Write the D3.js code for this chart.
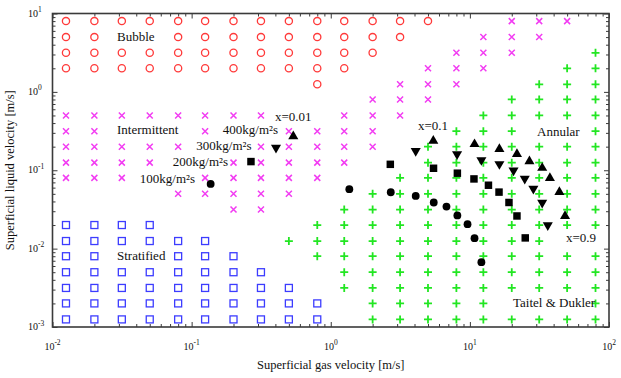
<!DOCTYPE html>
<html><head><meta charset="utf-8">
<script src="https://cdn.jsdelivr.net/npm/d3@7"></script>
<style>
html,body{margin:0;padding:0;background:#fff;}
svg{display:block;font-family:"Liberation Serif","Times New Roman",serif;}
</style></head><body>
<svg id="chart" width="621" height="378"></svg>
<script>
// Grid of superficial gas (jg) and liquid (jl) velocities [m/s]
const jgGrid = [0.0125, 0.02, 0.0315, 0.05, 0.08, 0.125, 0.2, 0.315, 0.5, 0.8,
                1.25, 2, 3.15, 5, 8, 12.5, 20, 31.5, 50, 80];
const jlGrid = [8, 5, 3.15, 2, 1.25, 0.8, 0.5, 0.315, 0.2, 0.125,
                0.08, 0.05, 0.0315, 0.02, 0.0125, 0.008, 0.005, 0.00315, 0.002, 0.00125];

// Predicted regime per grid node: one row per jl value, one char per jg value
// B bubble, I intermittent, S stratified, A annular, . not plotted
const regimeMap = [
  "BBBBBBBBBBBBBB..III.",
  "BB..BBBBBBBBB..III..",
  "BBBBBBBBBBBB..III..A",
  "BBBBBBBBBBB..III..AA",
  ".........B..III..AAA",
  "...........III..AAAA",
  "IIIIIIII..III..AAAAA",
  "II...I..IIII..AAA..A",
  "IIIII..IIIII.AAAAAAA",
  "IIII..IIIII..AAAAAAA",
  "III..IIIII..AAAAAAAA",
  "....IIIII..AAAAAAAAA",
  "......II..AAAAAAAAAA",
  "SSSS.....AAAAAAAAAAA",
  "SSSSSS..AAAAAAAAAA..",
  "SS..SSS..AAAAAAAAAAA",
  "SSSSSSSS..AAAAAAAAAA",
  "SSSSSSSSS.AAAAAAAAAA",
  "SSSSSSSSSS.AAAAA...A",
  "SSSSSSSSSS.AAAAAAAAA"
];

// Operating points [jg, jl] for qualities x = 0.01, 0.1 ... 0.9 at each mass flux
const g100 = [[0.137,0.0669],[1.36,0.0573],[2.70,0.0524],[4.08,0.0470],[5.50,0.0388],
              [6.79,0.0344],[8.13,0.0265],[9.62,0.0205],[10.8,0.0136],[12.1,0.00671]];
const g200 = [[0.267,0.129],[2.68,0.119],[5.48,0.106],[8.13,0.0917],[10.7,0.0775],
              [13.6,0.0644],[16.2,0.0526],[19.1,0.0388],[21.8,0.0261],[25.0,0.0137]];
const g300 = [[0.404,0.194],[4.08,0.176],[8.09,0.160],[12.1,0.135],[16.3,0.120],
              [20.6,0.0993],[24.8,0.078],[28.6,0.0582],[33.1,0.0386],[36.3,0.0199]];
const g400 = [[0.538,0.270],[5.46,0.237],[10.8,0.215],[16.3,0.186],[21.8,0.161],
              [26.8,0.130],[33.1,0.107],[37.6,0.0792],[44.0,0.0528],[48.3,0.0261]];

// Decade tick exponents
const xTickExp = [-2, -1, 0, 1, 2];
const yTickExp = [-3, -2, -1, 0, 1];

const xTitle = "Superficial gas velocity [m/s]";
const yTitle = "Superficial liquid velocity [m/s]";

// ---- layout ----
const P = {left: 52.5, right: 609, top: 13.5, bottom: 327};
const x = d3.scaleLog().domain([1e-2, 1e2]).range([P.left, P.right]);
const y = d3.scaleLog().domain([1e-3, 1e1]).range([P.bottom, P.top]);

const svg = d3.select("#chart");
const ink = "#3a3a3a";

const xMajor = xTickExp.map(e => Math.pow(10, e));
const yMajor = yTickExp.map(e => Math.pow(10, e));
const minors = majors => majors.slice(0, -1).flatMap(m => d3.range(2, 10).map(k => k * m));

function drawAxis(gen, majors, transform) {
  const g = svg.append("g").attr("transform", transform);
  g.call(gen.tickValues(majors).tickSize(-5).tickSizeOuter(0).tickFormat(""));
  g.append("g").call(gen.tickValues(minors(majors)).tickSize(-3).tickSizeOuter(0).tickFormat(""));
  g.selectAll(".domain").remove();
  g.selectAll("line").attr("stroke", ink).attr("stroke-width", 1);
}
drawAxis(d3.axisBottom(x), xMajor, `translate(0,${P.bottom})`);
drawAxis(d3.axisTop(x), xMajor, `translate(0,${P.top})`);
drawAxis(d3.axisLeft(y), yMajor, `translate(${P.left},0)`);
drawAxis(d3.axisRight(y), yMajor, `translate(${P.right},0)`);

// ---- regime map markers ----
const nodes = [];
regimeMap.forEach((row, i) => {
  row.split("").forEach((c, j) => {
    if (c !== ".") nodes.push({jg: jgGrid[j], jl: jlGrid[i], r: c});
  });
});

const layer = svg.append("g");
nodes.forEach(d => {
  const cx = x(d.jg), cy = y(d.jl);
  if (d.r === "B") {
    layer.append("circle").attr("cx", cx).attr("cy", cy).attr("r", 3.6)
      .attr("fill", "none").attr("stroke", "#ff3a3a").attr("stroke-width", 1.3);
  } else if (d.r === "S") {
    layer.append("rect").attr("x", cx - 3.5).attr("y", cy - 3.5)
      .attr("width", 7).attr("height", 7)
      .attr("fill", "none").attr("stroke", "#3c3cff").attr("stroke-width", 1.3);
  } else if (d.r === "I") {
    const a = 3;
    layer.append("path")
      .attr("d", `M${cx - a},${cy - a}L${cx + a},${cy + a}M${cx - a},${cy + a}L${cx + a},${cy - a}`)
      .attr("stroke", "#f23cf2").attr("stroke-width", 1.5).attr("fill", "none");
  } else if (d.r === "A") {
    const a = 4;
    layer.append("path")
      .attr("d", `M${cx - a},${cy}L${cx + a},${cy}M${cx},${cy - a}L${cx},${cy + a}`)
      .attr("stroke", "#22e622").attr("stroke-width", 1.8).attr("fill", "none");
  }
});

// ---- operating points ----
const flux = [
  {pts: g100, type: d3.symbolCircle, size: 48, rot: 0},
  {pts: g200, type: d3.symbolSquare, size: 56, rot: 0},
  {pts: g300, type: d3.symbolTriangle, size: 44, rot: 180},
  {pts: g400, type: d3.symbolTriangle, size: 44, rot: 0}
];
flux.forEach(s => {
  svg.append("g").selectAll("path").data(s.pts).join("path")
    .attr("d", d3.symbol().type(s.type).size(s.size))
    .attr("transform", d => `translate(${x(d[0])},${y(d[1])}) rotate(${s.rot})`)
    .attr("fill", "#000");
});

// ---- frame ----
svg.append("rect").attr("x", P.left).attr("y", P.top)
  .attr("width", P.right - P.left).attr("height", P.bottom - P.top)
  .attr("fill", "none").attr("stroke", ink).attr("stroke-width", 1.6);

// ---- tick labels ----
xTickExp.forEach(e => {
  const t = svg.append("text").attr("x", x(Math.pow(10, e))).attr("y", 349.5)
    .attr("text-anchor", "middle").attr("font-size", 10).attr("fill", "#111");
  t.append("tspan").text("10");
  t.append("tspan").attr("dy", -4.5).attr("font-size", 7.5).text(e);
});
yTickExp.forEach(e => {
  const t = svg.append("text").attr("x", 28).attr("y", y(Math.pow(10, e)) + 3)
    .attr("font-size", 10).attr("fill", "#111");
  t.append("tspan").text("10");
  t.append("tspan").attr("dy", -4.5).attr("font-size", 7.5).text(e);
});

// ---- axis titles ----
svg.append("text").attr("x", (P.left + P.right) / 2).attr("y", 368.5)
  .attr("text-anchor", "middle").attr("font-size", 12.5).attr("fill", "#111").text(xTitle);
svg.append("text").attr("transform", `translate(14,${(P.top + P.bottom) / 2}) rotate(-90)`)
  .attr("text-anchor", "middle").attr("font-size", 12.5).attr("fill", "#111").text(yTitle);

// ---- annotations ----
const notes = [
  {t: "Bubble", x: 117, y: 40.5},
  {t: "Intermittent", x: 117, y: 133.5},
  {t: "Stratified", x: 117, y: 260},
  {t: "Annular", x: 537, y: 135.5},
  {t: "Taitel & Dukler", x: 513, y: 307},
  {t: "x=0.01", x: 275, y: 121},
  {t: "x=0.1", x: 418, y: 129.5},
  {t: "x=0.9", x: 566, y: 241.5},
  {t: "400kg/m²s", x: 278, y: 134, end: true},
  {t: "300kg/m²s", x: 251.5, y: 150, end: true},
  {t: "200kg/m²s", x: 228, y: 165.5, end: true},
  {t: "100kg/m²s", x: 195, y: 183, end: true}
];
svg.append("g").selectAll("text").data(notes).join("text")
  .attr("x", d => d.x).attr("y", d => d.y)
  .attr("text-anchor", d => d.end ? "end" : "start")
  .attr("font-size", 13).attr("fill", "#111")
  .text(d => d.t);
</script>
</body></html>
